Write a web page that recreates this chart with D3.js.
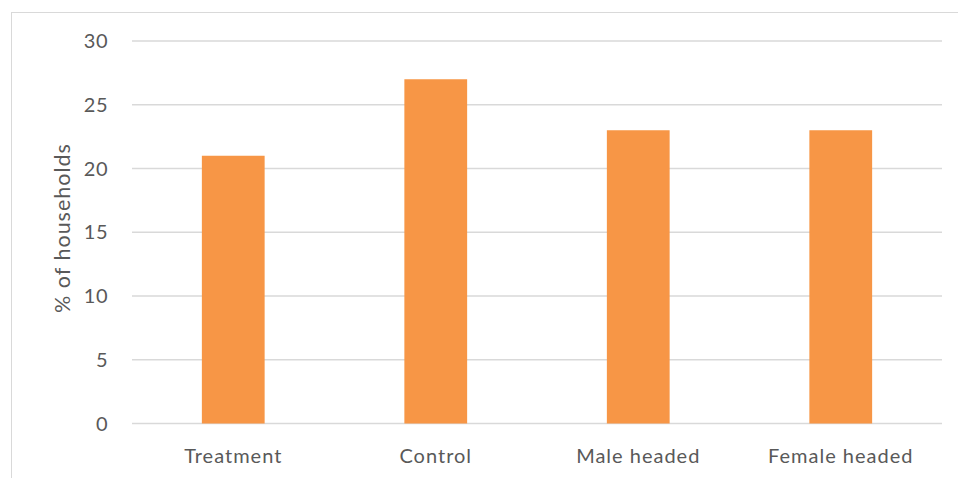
<!DOCTYPE html>
<html><head><meta charset="utf-8">
<script src="https://cdn.jsdelivr.net/npm/d3@7"></script>
<style>body{margin:0;background:#fff;} text{font-family:"Lato",sans-serif;fill:#595959;}</style>
</head><body><svg id="c" width="958" height="478"></svg>
<script>
const categories = ["Treatment","Control","Male headed","Female headed"];
const values = [21,27,23,23];
const yTicks = [0,5,10,15,20,25,30];

const svg = d3.select("#c");
svg.append("rect").attr("x",11.5).attr("y",12.5).attr("width",960).attr("height",480)
  .attr("fill","none").attr("stroke","#d9d9d9").attr("stroke-width",1);

const x = d3.scaleBand().domain(categories).range([132,942]).paddingInner(0.69).paddingOuter(0.345);
const y = d3.scaleLinear().domain([0,30]).range([423.5,41]);

const g = svg.append("g");
g.selectAll("line.grid").data(yTicks).join("line").attr("class","grid")
  .attr("x1",132).attr("x2",942).attr("y1",d=>y(d)).attr("y2",d=>y(d))
  .attr("stroke","#d9d9d9").attr("stroke-width",1.3);

g.selectAll("rect.bar").data(values).join("rect").attr("class","bar")
  .attr("x",(d,i)=>x(categories[i])).attr("width",x.bandwidth())
  .attr("y",d=>y(d)).attr("height",d=>y(0)-y(d)).attr("fill","#F79646");

g.selectAll("text.yt").data(yTicks).join("text").attr("class","yt")
  .attr("x",108).attr("y",d=>y(d)).attr("dy","0.35em").attr("text-anchor","end")
  .attr("font-size","20px").attr("letter-spacing","0.5px").text(d=>d);

g.selectAll("text.xt").data(categories).join("text").attr("class","xt")
  .attr("x",d=>x(d)+x.bandwidth()/2).attr("y",463).attr("text-anchor","middle")
  .attr("font-size","20px").attr("letter-spacing","1px").text(d=>d);

svg.append("text").attr("transform","translate(70,228) rotate(-90)")
  .attr("text-anchor","middle").attr("font-size","21.5px").attr("letter-spacing","1px").text("% of households");
</script></body></html>
